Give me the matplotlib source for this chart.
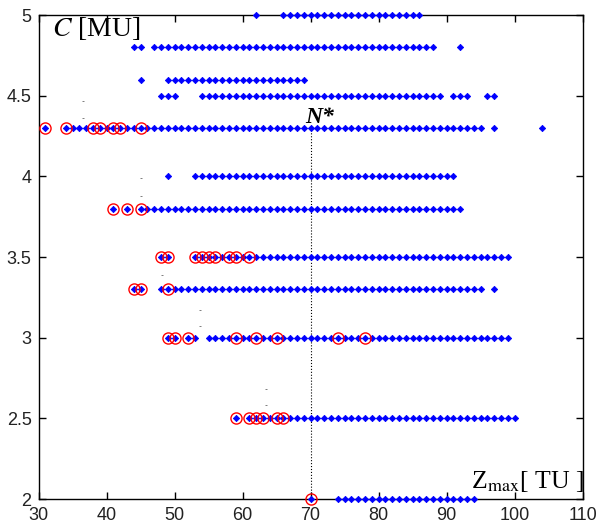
import matplotlib
matplotlib.use("Agg")
import matplotlib.pyplot as plt

plt.rcParams["mathtext.fontset"] = "stix"

# C values (rows) and the Zmax values found on each row
c_levels = [5.0, 4.8, 4.6, 4.5, 4.3, 4.0, 3.8, 3.5, 3.3, 3.0, 2.5, 2.0]
z_rows = [
    [62, 66, 67, 68, 69, 70, 71, 72, 73, 74, 75, 76, 77, 78, 79, 80, 81, 82, 83, 84, 85, 86],
    [44, 45, 47, 48, 49, 50, 51, 52, 53, 54, 55, 56, 57, 58, 59, 60, 61, 62, 63, 64, 65, 66,
     67, 68, 69, 70, 71, 72, 73, 74, 75, 76, 77, 78, 79, 80, 81, 82, 83, 84, 85, 86, 87, 88, 92],
    [45, 49, 50, 51, 52, 53, 54, 55, 56, 57, 58, 59, 60, 61, 62, 63, 64, 65, 66, 67, 68, 69],
    [48, 49, 50, 54, 55, 56, 57, 58, 59, 60, 61, 62, 63, 64, 65, 66, 67, 68, 69, 70, 71, 72,
     73, 74, 75, 76, 77, 78, 79, 80, 81, 82, 83, 84, 85, 86, 87, 88, 89, 91, 92, 93, 96, 97],
    [31, 34, 35, 36, 37, 38, 39, 40, 41, 42, 43, 44, 45, 46, 47, 48, 49, 50, 51, 52, 53, 54,
     55, 56, 57, 58, 59, 60, 61, 62, 63, 64, 65, 66, 67, 68, 69, 70, 71, 72, 73, 74, 75, 76,
     77, 78, 79, 80, 81, 82, 83, 84, 85, 86, 87, 88, 89, 90, 91, 92, 93, 94, 95, 97, 104],
    [49, 53, 54, 55, 56, 57, 58, 59, 60, 61, 62, 63, 64, 65, 66, 67, 68, 69, 70, 71, 72, 73,
     74, 75, 76, 77, 78, 79, 80, 81, 82, 83, 84, 85, 86, 87, 88, 89, 90, 91],
    [41, 43, 45, 46, 47, 48, 49, 50, 51, 52, 53, 54, 55, 56, 57, 58, 59, 60, 61, 62, 63, 64,
     65, 66, 67, 68, 69, 70, 71, 72, 73, 74, 75, 76, 77, 78, 79, 80, 81, 82, 83, 84, 85, 86,
     87, 88, 89, 90, 91, 92],
    [48, 49, 53, 54, 55, 56, 57, 58, 59, 60, 61, 62, 63, 64, 65, 66, 67, 68, 69, 70, 71, 72,
     73, 74, 75, 76, 77, 78, 79, 80, 81, 82, 83, 84, 85, 86, 87, 88, 89, 90, 91, 92, 93, 94,
     95, 96, 97, 98, 99],
    [44, 45, 48, 49, 50, 51, 52, 53, 54, 55, 56, 57, 58, 59, 60, 61, 62, 63, 64, 65, 66, 67,
     68, 69, 70, 71, 72, 73, 74, 75, 76, 77, 78, 79, 80, 81, 82, 83, 84, 85, 86, 87, 88, 89,
     90, 91, 92, 93, 94, 95, 97],
    [49, 50, 52, 53, 55, 56, 57, 58, 59, 60, 61, 62, 63, 64, 65, 66, 67, 68, 69, 70, 71, 72,
     73, 74, 75, 76, 77, 78, 79, 80, 81, 82, 83, 84, 85, 86, 87, 88, 89, 90, 91, 92, 93, 94,
     95, 96, 97, 98, 99],
    [59, 61, 62, 63, 64, 65, 66, 67, 68, 69, 70, 71, 72, 73, 74, 75, 76, 77, 78, 79, 80, 81,
     82, 83, 84, 85, 86, 87, 88, 89, 90, 91, 92, 93, 94, 95, 96, 97, 98, 99, 100],
    [70, 74, 75, 76, 77, 78, 79, 80, 81, 82, 83, 84, 85, 86, 87, 88, 89, 90, 91, 92, 93, 94],
]

# Pareto points (red circles)
pareto_z = [31, 34, 38, 39, 41, 42, 45,
            41, 43, 45,
            48, 49, 53, 54, 55, 56, 58, 59, 61,
            44, 45, 49,
            49, 50, 52, 59, 62, 65, 74, 78,
            59, 61, 62, 63, 65, 66,
            70]
pareto_c = [4.3] * 7 + [3.8] * 3 + [3.5] * 9 + [3.3] * 3 + [3.0] * 8 + [2.5] * 6 + [2.0]

# small stray marks in the original figure
stray_z = [36.5, 36.5, 45.0, 45.0, 48.2, 53.7, 53.7, 63.4, 63.4]
stray_c = [4.47, 4.36, 3.99, 3.88, 3.39, 3.17, 3.07, 2.68, 2.58]

n_star = 70

fig = plt.figure(figsize=(5.98, 5.27), dpi=100)
ax = fig.add_axes([0.0644, 0.0531, 0.910, 0.9184])

ax.plot([n_star, n_star], [2.0, 4.3], color="black", linestyle=":", linewidth=0.8, zorder=1)

for c, zs in zip(c_levels, z_rows):
    ax.plot(zs, [c] * len(zs), linestyle="none", marker="D", markersize=3.2,
            color="blue", markeredgewidth=0.6, clip_on=False, zorder=3)

ax.plot(pareto_z, pareto_c, linestyle="none", marker="o", markersize=8,
        markerfacecolor="none", markeredgecolor="red", markeredgewidth=1.0,
        clip_on=False, zorder=4)

ax.plot(stray_z, stray_c, linestyle="none", marker="_", markersize=2,
        color="dimgray", markeredgewidth=0.6)

ax.set_xlim(30, 110)
ax.set_ylim(2, 5)
ax.set_xticks([30, 40, 50, 60, 70, 80, 90, 100, 110])
ax.set_yticks([2, 2.5, 3, 3.5, 4, 4.5, 5])
ax.set_yticklabels(["2", "2.5", "3", "3.5", "4", "4.5", "5"])
ax.tick_params(direction="in", top=True, right=True, length=5, width=1,
               labelsize=13, labelcolor="#222222")
ax.tick_params(axis="x", pad=6)
ax.tick_params(axis="y", pad=5)
for lab in ax.get_xticklabels() + ax.get_yticklabels():
    lab.set_fontfamily("Liberation Sans")
for sp in ax.spines.values():
    sp.set_linewidth(1.0)
    sp.set_color("black")

ax.text(32.0, 4.87, r"$C$ [MU]", fontsize=20, family="Liberation Serif")
ax.text(93.6, 2.07, r"Z$_{\mathrm{max}}$[ TU ]", fontsize=18.5, family="Liberation Serif")
ax.text(69.2, 4.33, "N*", fontsize=17, family="Liberation Serif",
        fontweight="bold", fontstyle="italic")

fig.savefig("out.png", dpi=100)
